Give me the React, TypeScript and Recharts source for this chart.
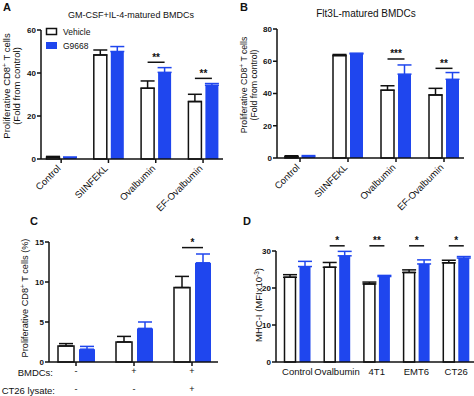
import React from 'react';
import { BarChart, Bar, XAxis, YAxis, ErrorBar } from 'recharts';

const FONT = '"Liberation Sans", Arial, sans-serif';
const BLUE = '#1f46ee';
const INK = '#111';

// Panel A
const categoriesA = ['Control', 'SIINFEKL', 'Ovalbumin', 'EF-Ovalbumin'];
const vehicleA = [0.8, 48.4, 32.9, 26.7];
const vehicleErrA = [0.4, 2.3, 3.4, 3.4];
const g9668A = [0.7, 50.0, 40.3, 34.3];
const g9668ErrA = [0.2, 2.3, 2.2, 0.8];
const sigA = [null, null, 45, 37.5];
const starsA = ['', '', '**', '**'];
const ticksA = [0, 20, 40, 60];

// Panel B
const categoriesB = ['Control', 'SIINFEKL', 'Ovalbumin', 'EF-Ovalbumin'];
const vehicleB = [0.8, 63.5, 42.0, 39.1];
const vehicleErrB = [0.6, 0.7, 2.8, 4.1];
const g9668B = [0.8, 64.5, 52.0, 48.8];
const g9668ErrB = [0.7, 0.5, 5.7, 4.2];
const sigB = [null, null, 61.4, 55.6];
const starsB = ['', '', '***', '**'];
const ticksB = [0, 20, 40, 60, 80];

// Panel C
const categoriesC = ['g1', 'g2', 'g3'];
const bmdcsC = ['-', '+', '+'];
const ct26C = ['-', '-', '+'];
const vehicleC = [2.0, 2.5, 9.3];
const vehicleErrC = [0.3, 0.7, 1.4];
const g9668C = [1.6, 4.2, 12.4];
const g9668ErrC = [0.35, 0.8, 1.1];
const sigC = [null, null, 14.3];
const starsC = ['', '', '*'];
const ticksC = [0, 5, 10, 15];

// Panel D
const categoriesD = ['Control', 'Ovalbumin', '4T1', 'EMT6', 'CT26'];
const vehicleD = [22.9, 25.6, 21.1, 24.2, 26.8];
const vehicleErrD = [0.7, 1.3, 0.5, 0.7, 0.7];
const g9668D = [25.8, 28.7, 23.1, 26.5, 28.1];
const g9668ErrD = [1.4, 1.2, 0.3, 1.1, 0.4];
const sigD = [null, 31.4, 31.4, 31.4, 31.4];
const starsD = ['', '*', '**', '*', '*'];
const ticksD = [0, 10, 20, 30];

function buildRows(
  cats: string[], v: number[], ve: number[], g: number[], ge: number[],
  sig: (number | null)[], stars: string[]
) {
  return cats.map((c, i) => ({
    cat: c,
    v: v[i],
    vErr: [0, ve[i]],
    g: g[i],
    gErr: [0, ge[i]],
    sig: sig[i],
    stars: stars[i],
  }));
}

const dataA = buildRows(categoriesA, vehicleA, vehicleErrA, g9668A, g9668ErrA, sigA, starsA);
const dataB = buildRows(categoriesB, vehicleB, vehicleErrB, g9668B, g9668ErrB, sigB, starsB);
const dataC = buildRows(categoriesC, vehicleC, vehicleErrC, g9668C, g9668ErrC, sigC, starsC);
const dataD = buildRows(categoriesD, vehicleD, vehicleErrD, g9668D, g9668ErrD, sigD, starsD);

const makeBlueShape = (gap: number) => (props: any) => {
  const { x, y, width, height, payload } = props;
  const els: any[] = [
    <rect key="r" x={x} y={y} width={width} height={height} fill={BLUE} />,
  ];
  if (payload && payload.sig != null && payload.g > 0 && height > 0) {
    const bottom = y + height;
    const ly = bottom - (payload.sig * height) / payload.g;
    const x2 = x + width / 2;
    const x1 = x2 - width - gap;
    els.push(
      <line key="l" x1={x1} x2={x2} y1={ly} y2={ly} stroke={INK} strokeWidth={1.5} />,
      <text key="t" x={(x1 + x2) / 2} y={ly - 1.5} textAnchor="middle" fontSize={10}
        fontWeight="bold" fill={INK} fontFamily={FONT}>{payload.stars}</text>
    );
  }
  return <g>{els}</g>;
};

const RotTick = (props: any) => {
  const { x, y, payload } = props;
  return (
    <g transform={`translate(${x - 2},${y + 4})`}>
      <text transform="rotate(-45)" textAnchor="end" x={0} y={0} dy={3}
        fontSize={9.5} fill={INK} fontFamily={FONT}>{payload.value}</text>
    </g>
  );
};

const SignTick = (props: any) => {
  const { x, y, payload } = props;
  const i = categoriesC.indexOf(payload.value);
  return (
    <g>
      <text x={x} y={y + 8} textAnchor="middle" fontSize={9} fill={INK} fontFamily={FONT}>{bmdcsC[i]}</text>
      <text x={x} y={y + 26} textAnchor="middle" fontSize={9} fill={INK} fontFamily={FONT}>{ct26C[i]}</text>
    </g>
  );
};

const PlainTick = (props: any) => {
  const { x, y, payload } = props;
  return (
    <text x={x} y={y + 13} textAnchor="middle" fontSize={9.5} fill={INK} fontFamily={FONT}>{payload.value}</text>
  );
};

const yTick = { fontSize: 8, fontWeight: 'bold', fill: INK, fontFamily: FONT };
const axisLine = { stroke: INK, strokeWidth: 1.5 };

function Panel(props: {
  data: any[]; left: number; top: number; width: number; height: number;
  margin: any; domain: [number, number]; ticks: number[]; padding: any;
  xHeight: number; tick: any; tickLine: boolean; barSize: number; barGap: number;
}) {
  const p = props;
  return (
    <div style={{ position: 'absolute', left: p.left, top: p.top }}>
      <BarChart width={p.width} height={p.height} data={p.data} margin={p.margin}
        barGap={p.barGap} barSize={p.barSize}>
        <XAxis dataKey="cat" type="category" interval={0} padding={p.padding}
          height={p.xHeight} tickSize={p.tickLine ? 4 : 0} tickMargin={0}
          tickLine={p.tickLine ? axisLine : false} axisLine={axisLine} tick={p.tick} />
        <YAxis type="number" domain={p.domain} ticks={p.ticks} interval={0} width={30}
          tickSize={4} tickMargin={1} tickLine={axisLine} axisLine={axisLine} tick={yTick}
          allowDataOverflow={false} />
        <Bar dataKey="v" fill="#fff" stroke={INK} strokeWidth={1.5} isAnimationActive={false}>
          <ErrorBar dataKey="vErr" width={7} stroke={INK} strokeWidth={1.5} direction="y" />
        </Bar>
        <Bar dataKey="g" fill={BLUE} isAnimationActive={false} shape={makeBlueShape(p.barGap)}>
          <ErrorBar dataKey="gErr" width={7} stroke={BLUE} strokeWidth={1.5} direction="y" />
        </Bar>
      </BarChart>
    </div>
  );
}

const sup = (s: string) => [
  <tspan key="a" dy={-3} fontSize={6.5}>{s}</tspan>,
];

export default function App() {
  return (
    <div style={{ position: 'absolute', left: 0, top: 0, width: 474, height: 396, background: '#fff', overflow: 'hidden' }}>
      <Panel data={dataA} left={0} top={0} width={237} height={230}
        margin={{ top: 30, right: 14, left: 11, bottom: 0 }} domain={[0, 60]} ticks={ticksA}
        padding={{ left: -3.5, right: -3.7 }} xHeight={71} tick={(t: any) => <RotTick {...t} />}
        tickLine={true} barSize={13} barGap={4} />
      <Panel data={dataB} left={237} top={0} width={237} height={230}
        margin={{ top: 29, right: 10, left: 10, bottom: 0 }} domain={[0, 80]} ticks={ticksB}
        padding={{ left: -1, right: -4 }} xHeight={72} tick={(t: any) => <RotTick {...t} />}
        tickLine={true} barSize={13} barGap={4} />
      <Panel data={dataC} left={0} top={200} width={237} height={196}
        margin={{ top: 42, right: 19, left: 19, bottom: 0 }} domain={[0, 15]} ticks={ticksC}
        padding={{ left: -2, right: -3 }} xHeight={34} tick={(t: any) => <SignTick {...t} />}
        tickLine={true} barSize={16} barGap={5} />
      <Panel data={dataD} left={237} top={200} width={237} height={196}
        margin={{ top: 51, right: 0, left: 9, bottom: 0 }} domain={[0, 30]} ticks={ticksD}
        padding={{ left: 1.5, right: -2 }} xHeight={34} tick={(t: any) => <PlainTick {...t} />}
        tickLine={false} barSize={11} barGap={4} />
      <svg width={474} height={396} style={{ position: 'absolute', left: 0, top: 0, pointerEvents: 'none' }}
        fontFamily={FONT} fill={INK}>
        <text x={3} y={11} fontSize={11} fontWeight="bold">A</text>
        <text x={240} y={11} fontSize={11} fontWeight="bold">B</text>
        <text x={30} y={225} fontSize={11} fontWeight="bold">C</text>
        <text x={243} y={225} fontSize={11} fontWeight="bold">D</text>
        <text x={131} y={18} fontSize={9} textAnchor="middle">GM-CSF+IL-4-matured BMDCs</text>
        <text x={366} y={17} fontSize={10} textAnchor="middle">Flt3L-matured BMDCs</text>
        <text transform="translate(10,86) rotate(-90)" textAnchor="middle" fontSize={9.5}>
          Proliferative CD8{sup('+')}<tspan dy={3}> T cells</tspan>
        </text>
        <text transform="translate(20,86) rotate(-90)" textAnchor="middle" fontSize={9.5}>(Fold from control)</text>
        <text transform="translate(247,85) rotate(-90)" textAnchor="middle" fontSize={8.7}>
          Proliferative CD8{sup('+')}<tspan dy={3}> T cells</tspan>
        </text>
        <text transform="translate(257,85) rotate(-90)" textAnchor="middle" fontSize={8.7}>(Fold from control)</text>
        <text transform="translate(28,298) rotate(-90)" textAnchor="middle" fontSize={9.2}>
          Proliferative CD8{sup('+')}<tspan dy={3}> T cells (%)</tspan>
        </text>
        <text transform="translate(262,305) rotate(-90)" textAnchor="middle" fontSize={9.5}>
          MHC-I (MFIx10{sup('-3')}<tspan dy={3}>)</tspan>
        </text>
        <rect x={46.5} y={28.5} width={10} height={6} fill="#fff" stroke={INK} strokeWidth={1.5} />
        <text x={63} y={35} fontSize={8.5}>Vehicle</text>
        <rect x={46} y={42} width={11} height={7} fill={BLUE} />
        <text x={63} y={48.5} fontSize={8.5}>G9668</text>
        <text x={53} y={376} fontSize={9.5} textAnchor="end">BMDCs:</text>
        <text x={55} y={394} fontSize={9.5} textAnchor="end">CT26 lysate:</text>
      </svg>
    </div>
  );
}
